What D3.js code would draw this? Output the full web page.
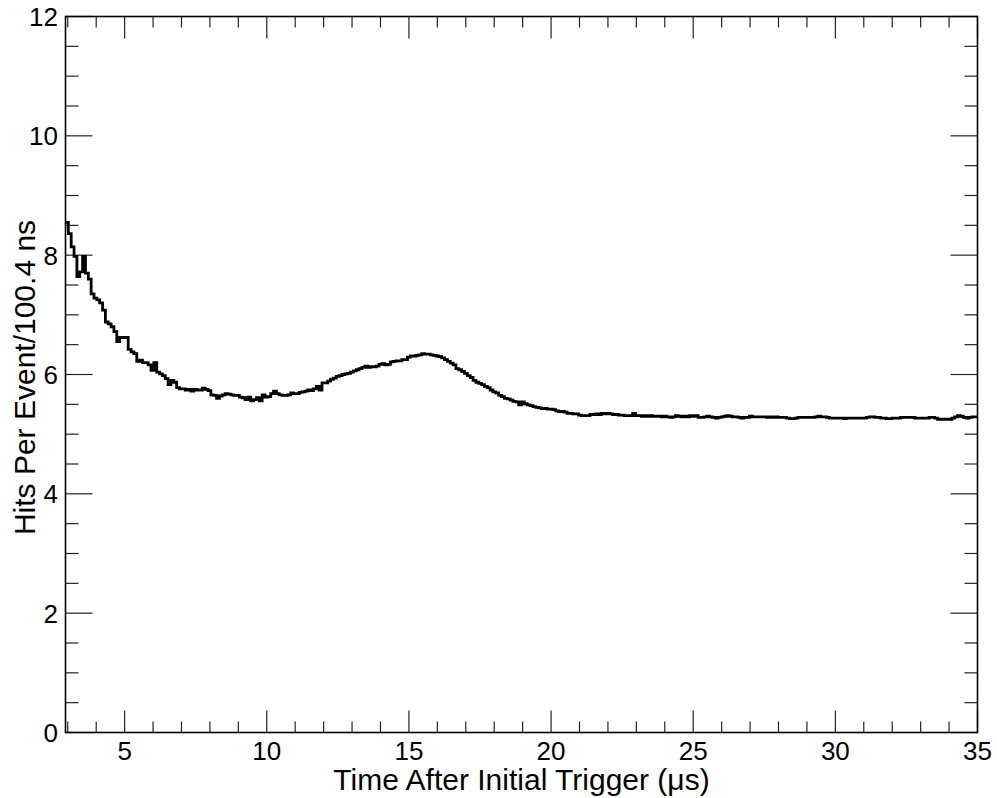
<!DOCTYPE html>
<html>
<head>
<meta charset="utf-8">
<script src="https://cdn.jsdelivr.net/npm/d3@7"></script>
<style>
  html, body { margin: 0; padding: 0; background: #fff; }
  svg { display: block; }
  text { font-family: "Liberation Sans", Arial, Helvetica, sans-serif; fill: #000; }
</style>
</head>
<body>
<svg id="chart" width="997" height="798"></svg>
<script>
// ---- Data ----
const xRange = [2.92, 35];
const yRange = [0, 12];
const xTickLabels = [5, 10, 15, 20, 25, 30, 35];
const yTickLabels = [0, 2, 4, 6, 8, 10, 12];
const xTitle = "Time After Initial Trigger (\u03BCs)";
const yTitle = "Hits Per Event/100.4 ns";
// Hits per event in each 100.4 ns bin (320 bins spanning xRange)
const binValues = [
  8.55, 8.36, 8.14, 7.98, 7.64, 7.72, 7.98, 7.70, 7.60, 7.35,
  7.28, 7.25, 7.20, 7.08, 6.88, 6.85, 6.80, 6.72, 6.55, 6.62,
  6.62, 6.62, 6.42, 6.38, 6.35, 6.22, 6.24, 6.20, 6.20, 6.16,
  6.07, 6.20, 6.04, 6.01, 5.98, 5.93, 5.83, 5.90, 5.87, 5.78,
  5.76, 5.76, 5.74, 5.75, 5.72, 5.75, 5.74, 5.74, 5.77, 5.75,
  5.73, 5.66, 5.65, 5.60, 5.64, 5.66, 5.68, 5.67, 5.66, 5.65,
  5.65, 5.62, 5.61, 5.58, 5.62, 5.56, 5.58, 5.61, 5.56, 5.66,
  5.62, 5.63, 5.68, 5.72, 5.68, 5.66, 5.65, 5.65, 5.66, 5.69,
  5.68, 5.68, 5.70, 5.71, 5.72, 5.74, 5.73, 5.76, 5.80, 5.74,
  5.86, 5.86, 5.89, 5.92, 5.94, 5.97, 5.98, 6.00, 6.01, 6.02,
  6.04, 6.06, 6.08, 6.10, 6.12, 6.14, 6.12, 6.13, 6.13, 6.14,
  6.17, 6.18, 6.16, 6.17, 6.21, 6.22, 6.23, 6.23, 6.25, 6.25,
  6.29, 6.31, 6.31, 6.32, 6.33, 6.35, 6.34, 6.34, 6.33, 6.32,
  6.31, 6.30, 6.28, 6.25, 6.22, 6.19, 6.16, 6.10, 6.08, 6.05,
  6.02, 5.98, 5.95, 5.90, 5.87, 5.85, 5.83, 5.80, 5.78, 5.74,
  5.71, 5.69, 5.65, 5.63, 5.60, 5.59, 5.57, 5.55, 5.54, 5.49,
  5.54, 5.51, 5.49, 5.48, 5.46, 5.45, 5.44, 5.43, 5.43, 5.42,
  5.42, 5.41, 5.39, 5.38, 5.38, 5.37, 5.35, 5.35, 5.34, 5.34,
  5.32, 5.31, 5.31, 5.31, 5.33, 5.33, 5.34, 5.33, 5.35, 5.34,
  5.35, 5.34, 5.33, 5.33, 5.32, 5.32, 5.31, 5.31, 5.31, 5.35,
  5.31, 5.31, 5.30, 5.31, 5.30, 5.31, 5.30, 5.30, 5.30, 5.29,
  5.30, 5.29, 5.28, 5.29, 5.31, 5.30, 5.29, 5.30, 5.29, 5.31,
  5.30, 5.31, 5.28, 5.28, 5.29, 5.30, 5.29, 5.28, 5.27, 5.28,
  5.29, 5.30, 5.31, 5.30, 5.29, 5.29, 5.28, 5.27, 5.28, 5.28,
  5.30, 5.29, 5.29, 5.29, 5.29, 5.29, 5.28, 5.29, 5.28, 5.29,
  5.28, 5.28, 5.28, 5.27, 5.26, 5.26, 5.27, 5.28, 5.28, 5.28,
  5.28, 5.28, 5.28, 5.29, 5.30, 5.29, 5.29, 5.28, 5.27, 5.27,
  5.27, 5.27, 5.27, 5.26, 5.27, 5.27, 5.27, 5.27, 5.27, 5.27,
  5.27, 5.28, 5.29, 5.29, 5.28, 5.28, 5.27, 5.27, 5.26, 5.26,
  5.27, 5.27, 5.27, 5.28, 5.28, 5.28, 5.28, 5.28, 5.27, 5.27,
  5.27, 5.27, 5.27, 5.28, 5.28, 5.27, 5.25, 5.25, 5.25, 5.25,
  5.25, 5.27, 5.29, 5.31, 5.30, 5.28, 5.27, 5.28, 5.29, 5.29
];

// ---- Layout ----
const W = 997, H = 798;
const plot = { left: 65.5, right: 977.5, top: 16.5, bottom: 732.5 };
const svg = d3.select("#chart");

const x = d3.scaleLinear().domain(xRange).range([plot.left, plot.right]);
const y = d3.scaleLinear().domain(yRange).range([plot.bottom, plot.top]);

const nBins = binValues.length;
const binW = (xRange[1] - xRange[0]) / nBins;

// Ticks
const xMinor = d3.range(3, 35.001, 1);
const yMinor = d3.range(0, 12.001, 0.5);
const majLenX = 22, minLenX = 11, majLenY = 27, minLenY = 13;

const tickG = svg.append("g").attr("stroke", "#222").attr("stroke-width", 1.2);
xMinor.forEach(v => {
  const isMaj = xTickLabels.includes(v);
  const L = isMaj ? majLenX : minLenX;
  const px = x(v);
  tickG.append("line").attr("x1", px).attr("x2", px).attr("y1", plot.bottom).attr("y2", plot.bottom - L);
  tickG.append("line").attr("x1", px).attr("x2", px).attr("y1", plot.top).attr("y2", plot.top + L);
});
yMinor.forEach(v => {
  const isMaj = yTickLabels.includes(v);
  const L = isMaj ? majLenY : minLenY;
  const py = y(v);
  tickG.append("line").attr("x1", plot.left).attr("x2", plot.left + L).attr("y1", py).attr("y2", py);
  tickG.append("line").attr("x1", plot.right).attr("x2", plot.right - L).attr("y1", py).attr("y2", py);
});

// Frame
svg.append("rect")
  .attr("x", plot.left).attr("y", plot.top)
  .attr("width", plot.right - plot.left).attr("height", plot.bottom - plot.top)
  .attr("fill", "none").attr("stroke", "#000").attr("stroke-width", 1.6);

// Histogram step line
const pts = binValues.map((v, i) => [xRange[0] + i * binW, v]);
pts.push([xRange[1], binValues[nBins - 1]]);
const line = d3.line().x(d => x(d[0])).y(d => y(d[1])).curve(d3.curveStepAfter);
svg.append("path")
  .attr("d", line(pts))
  .attr("fill", "none").attr("stroke", "#000").attr("stroke-width", 2.8)
  .attr("stroke-linejoin", "miter");

// Tick labels
const fs = 26;
svg.append("g").selectAll("text").data(xTickLabels).join("text")
  .attr("x", d => x(d)).attr("y", 760)
  .attr("text-anchor", "middle").attr("font-size", fs)
  .text(d => d);
svg.append("g").selectAll("text").data(yTickLabels).join("text")
  .attr("x", 58).attr("y", d => y(d) + 9.5)
  .attr("text-anchor", "end").attr("font-size", fs)
  .text(d => d);

// Axis titles
svg.append("text")
  .attr("x", (plot.left + plot.right) / 2).attr("y", 790)
  .attr("text-anchor", "middle").attr("font-size", 30)
  .text(xTitle);
svg.append("text")
  .attr("transform", `translate(35,${(plot.top + plot.bottom) / 2 + 3}) rotate(-90)`)
  .attr("text-anchor", "middle").attr("font-size", 30)
  .text(yTitle);
</script>
</body>
</html>
